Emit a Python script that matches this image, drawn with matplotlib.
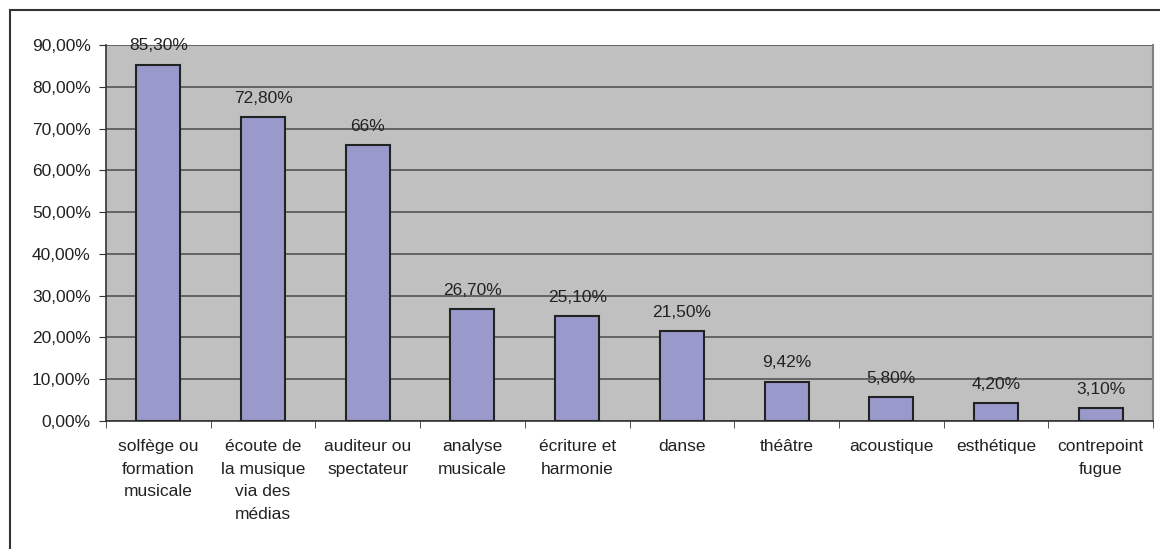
import matplotlib
matplotlib.use("Agg")
import matplotlib.pyplot as plt
from matplotlib.patches import Rectangle

categories = ["solfège ou\nformation\nmusicale", "écoute de\nla musique\nvia des\nmédias",
              "auditeur ou\nspectateur", "analyse\nmusicale", "écriture et\nharmonie",
              "danse", "théâtre", "acoustique", "esthétique", "contrepoint\nfugue"]
values = [85.3, 72.8, 66, 26.7, 25.1, 21.5, 9.42, 5.8, 4.2, 3.1]
value_labels = ["85,30%", "72,80%", "66%", "26,70%", "25,10%", "21,50%",
                "9,42%", "5,80%", "4,20%", "3,10%"]
yticks = [0, 10, 20, 30, 40, 50, 60, 70, 80, 90]

plt.rcParams['font.family'] = ['Liberation Sans', 'DejaVu Sans']
plt.rcParams['font.size'] = 12.5

fig = plt.figure(figsize=(11.6, 5.49), dpi=100)
ax = fig.add_axes([106 / 1160, 1 - 421 / 549, (1153 - 106) / 1160, (421 - 45) / 549])

# chart border
fig.patches.append(Rectangle((10 / 1160, -0.1), 1.2, 1 - 10 / 549 + 0.1,
                             transform=fig.transFigure, fill=False,
                             edgecolor='#333333', lw=1.5))

ax.set_facecolor('#C0C0C0')
x = list(range(len(values)))
ax.bar(x, values, width=0.42, color='#9999CC', edgecolor='#222222', lw=1.5, zorder=3)

for xi, v, lab in zip(x, values, value_labels):
    ax.annotate(lab, (xi, v), xytext=(0, 13.5), textcoords='offset points',
                ha='center', va='center', color='#222222', zorder=4)

ax.set_xlim(-0.5, len(values) - 0.5)
ax.set_ylim(0, 90)
ax.set_yticks(yticks)
ax.set_yticklabels([f"{t},00%" for t in yticks], color='#222222')
ax.yaxis.grid(True, color='#555555', lw=1.2, zorder=1)

ax.set_xticks(x)
ax.set_xticklabels(categories, linespacing=1.63, va='top', color='#222222')
ax.set_xticks([i - 0.5 for i in range(len(values) + 1)], minor=True)
ax.tick_params(axis='x', which='major', length=0, pad=13)
ax.tick_params(axis='x', which='minor', length=5, direction='out', color='#333333')
ax.tick_params(axis='y', length=5, direction='out', color='#333333', pad=6)

ax.spines['top'].set_visible(False)
ax.spines['right'].set_color('#808080')
ax.spines['right'].set_linewidth(1.5)
ax.spines['left'].set_color('#333333')
ax.spines['bottom'].set_color('#333333')
ax.spines['left'].set_linewidth(1.2)
ax.spines['bottom'].set_linewidth(1.2)

fig.savefig("out.png", dpi=100)
